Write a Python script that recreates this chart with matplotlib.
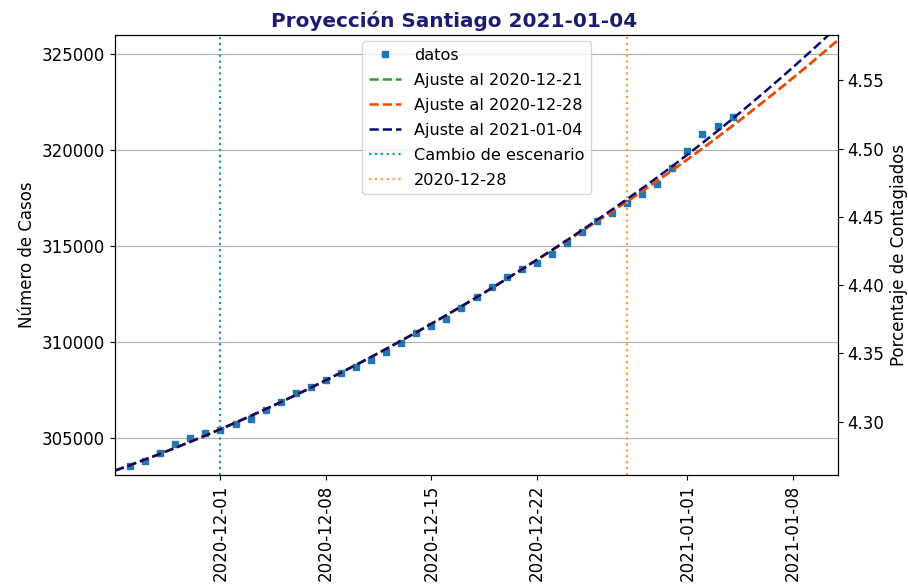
import matplotlib
matplotlib.use('Agg')
import matplotlib.pyplot as plt
import matplotlib.dates as mdates
import pandas as pd

plt.rcParams.update({'font.size': 12})

poblacion = 7112808

# datos diarios 2020-11-25 .. 2021-01-04
fechas_datos = pd.date_range('2020-11-25', '2021-01-04', freq='D')
casos = [303540, 303820, 304200, 304670, 304985, 305245, 305420, 305710,
         305970, 306460, 306890, 307330, 307640, 308020, 308400, 308710,
         309060, 309500, 309960, 310450, 310830, 311200, 311750, 312360,
         312850, 313370, 313800, 314130, 314580, 315140, 315740, 316320,
         316700, 317220, 317690, 318230, 319050, 319960, 320830, 321250,
         321730]

# curvas de ajuste 2020-11-24 .. 2021-01-11
fechas_ajuste = pd.date_range('2020-11-24', '2021-01-11', freq='D')
ajuste_0104 = [303300, 303584, 303876, 304176, 304484, 304800, 305124, 305456,
               305796, 306144, 306500, 306864, 307236, 307616, 308004, 308400,
               308804, 309216, 309636, 310064, 310500, 310944, 311396, 311856,
               312324, 312800, 313284, 313776, 314276, 314784, 315300, 315824,
               316356, 316896, 317444, 318003, 318574, 319158, 319756, 320366,
               320990, 321626, 322276, 322938, 323614, 324302, 325004, 325718,
               326446]
ajuste_1228 = [303300, 303584, 303876, 304176, 304484, 304800, 305124, 305456,
               305796, 306144, 306500, 306864, 307236, 307616, 308004, 308400,
               308804, 309216, 309636, 310064, 310500, 310944, 311396, 311856,
               312324, 312800, 313284, 313776, 314276, 314769, 315268, 315772,
               316282, 316798, 317320, 317851, 318392, 318943, 319506, 320079,
               320664, 321258, 321864, 322480, 323108, 323746, 324396, 325055,
               325726]
ajuste_1221 = [303300, 303584, 303876, 304176, 304484, 304800, 305124, 305456,
               305796, 306144, 306500, 306864, 307236, 307616, 308004, 308400,
               308804, 309216, 309636, 310064, 310500, 310944, 311396, 311856,
               312324, 312800, 313284, 313776, 314276, 314769, 315268, 315772,
               316282, 316798, 317320, 317851, 318392, 318943, 319506, 320079,
               320664, 321258, 321864, 322480, 323108, 323746, 324396, 325055,
               325726]

cambio = pd.Timestamp('2020-12-01')
corte = pd.Timestamp('2020-12-28')

fig, ax = plt.subplots(figsize=(9.08, 5.85), dpi=100)
fig.subplots_adjust(left=115/908, right=838/908, top=1-35/585, bottom=1-475/585)

ax.plot(fechas_datos, casos, 's', color='#1f77b4', markersize=5, label='datos')
ax.plot(fechas_ajuste, ajuste_1221, '--', color='#2ca02c', lw=1.8, label='Ajuste al 2020-12-21')
ax.plot(fechas_ajuste, ajuste_1228, '--', color='orangered', lw=1.8, label='Ajuste al 2020-12-28')
ax.plot(fechas_ajuste, ajuste_0104, '--', color='#0a0a6e', lw=1.8, label='Ajuste al 2021-01-04')
ax.axvline(cambio, ls=':', color='#13a09a', lw=1.6, label='Cambio de escenario')
ax.axvline(corte, ls=':', color='#f5a030', lw=1.6, label='2020-12-28')

ax.set_xlim(pd.Timestamp('2020-11-24'), pd.Timestamp('2021-01-11'))
ax.set_ylim(303070, 325990)
ax.set_yticks([305000, 310000, 315000, 320000, 325000])
ax.grid(axis='y', color='#b0b0b0')
ax.xaxis.set_major_locator(mdates.DayLocator(bymonthday=[1, 8, 15, 22]))
ax.xaxis.set_major_formatter(mdates.DateFormatter('%Y-%m-%d'))
plt.setp(ax.get_xticklabels(), rotation=90)
ax.set_ylabel('Número de Casos')
ax.set_title('Proyección Santiago 2021-01-04', fontsize=14.4, fontweight='bold',
             color='#1c1c6e', x=0.469)
ax.legend(loc='upper center', fontsize=11.6, labelspacing=0.62, borderaxespad=0.4)

ax2 = ax.twinx()
lo, hi = ax.get_ylim()
ax2.set_ylim(lo / poblacion * 100, hi / poblacion * 100)
ax2.set_yticks([4.30, 4.35, 4.40, 4.45, 4.50, 4.55])
ax2.set_ylabel('Porcentaje de Contagiados')

fig.savefig('out.png', dpi=100)
